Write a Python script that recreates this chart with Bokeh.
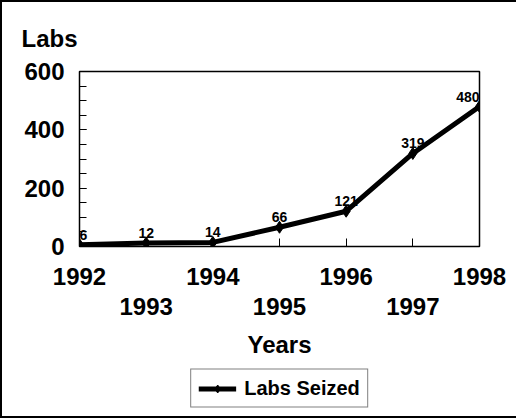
from bokeh.plotting import figure
from bokeh.layouts import column
from bokeh.models import (Range1d, LinearAxis, FixedTicker, Legend, LegendItem,
                          ColumnDataSource)
from bokeh.embed import file_html
from bokeh.resources import INLINE
from bokeh.core.properties import value

# ---- data ----
years = ["1992", "1993", "1994", "1995", "1996", "1997", "1998"]
labs_seized = [6, 12, 14, 66, 121, 319, 480]
y_ticks = [0, 200, 400, 600]
title_text = "Labs"
x_title = "Years"
series_name = "Labs Seized"

FONT = "Liberation Sans"
xs = list(range(len(years)))

aligns = ["left"] + ["center"] * (len(years) - 2) + ["right"]
src = ColumnDataSource(dict(x=xs, y=labs_seized,
                            t=[str(v) for v in labs_seized], align=aligns))

p = figure(frame_width=400, frame_height=175,
           x_range=Range1d(0, len(years) - 1), y_range=Range1d(0, 600),
           min_border_left=77, min_border_right=37, min_border_top=69,
           min_border_bottom=113,
           output_backend="svg", toolbar_location=None)
p.background_fill_color = "white"
p.border_fill_color = "white"
p.outline_line_color = "black"
p.outline_line_width = 1.5
p.xgrid.visible = False
p.ygrid.visible = False

# title
p.title.text = title_text
p.title.align = "left"
p.title.offset = -58
p.title.text_font = FONT
p.title.text_font_size = "24px"
p.title.text_font_style = "bold"
p.title.text_color = "black"
p.title.standoff = 40

# y axis
ya = p.yaxis[0]
ya.ticker = FixedTicker(ticks=y_ticks, minor_ticks=list(range(0, 601, 50)))
ya.axis_line_color = None
ya.major_tick_in = 7
ya.major_tick_out = 0
ya.minor_tick_in = 7
ya.minor_tick_out = 0
ya.major_tick_line_color = "black"
ya.minor_tick_line_color = "black"
ya.major_label_text_font = FONT
ya.major_label_text_font_size = "24px"
ya.major_label_text_font_style = "bold"
ya.major_label_text_color = "black"
ya.major_label_standoff = 15

# x axis: even years (ticks on all years)
xa = p.xaxis[0]
xa.ticker = FixedTicker(ticks=xs, minor_ticks=[])
xa.major_label_overrides = {i: (years[i] if i % 2 == 0 else "") for i in xs}
xa.axis_line_color = None
xa.major_tick_in = 8
xa.major_tick_out = 0
xa.major_tick_line_color = "black"
xa.major_label_text_font = FONT
xa.major_label_text_font_size = "24px"
xa.major_label_text_font_style = "bold"
xa.major_label_text_color = "black"
xa.major_label_standoff = 21

# x axis: odd years on second row
xa2 = LinearAxis(ticker=FixedTicker(ticks=[i for i in xs if i % 2 == 1], minor_ticks=[]))
xa2.major_label_overrides = {i: years[i] for i in xs if i % 2 == 1}
xa2.axis_line_color = None
xa2.major_tick_line_color = None
xa2.major_tick_in = 0
xa2.major_tick_out = 0
xa2.minor_tick_line_color = None
xa2.major_label_text_font = FONT
xa2.major_label_text_font_size = "24px"
xa2.major_label_text_font_style = "bold"
xa2.major_label_text_color = "black"
xa2.major_label_standoff = 10
xa2.axis_label = x_title
xa2.axis_label_text_font = FONT
xa2.axis_label_text_font_size = "24px"
xa2.axis_label_text_font_style = "bold"
xa2.axis_label_text_color = "black"
xa2.axis_label_standoff = 13
p.add_layout(xa2, "below")

# series
ln = p.line("x", "y", source=src, line_color="black", line_width=5)
mk = p.scatter("x", "y", source=src, marker="diamond", size=12,
               fill_color="black", line_color="black")
p.text("x", "y", text="t", source=src, text_align="align",
       text_baseline="bottom", y_offset=-5,
       text_font=value(FONT), text_font_size="14px", text_font_style="bold",
       text_color="black")

# legend strip (separate small figure below the chart; its renderers lie outside its view)
p2 = figure(width=514, height=56, x_range=Range1d(0, 1), y_range=Range1d(-2, -1),
            min_border=0, output_backend="svg", toolbar_location=None)
p2.axis.visible = False
p2.grid.visible = False
p2.outline_line_color = None
p2.background_fill_color = "white"
p2.border_fill_color = "white"
ln2 = p2.line("x", "y", source=src, line_color="black", line_width=5)
mk2 = p2.scatter("x", "y", source=src, marker="diamond", size=12,
                 fill_color="black", line_color="black")
legend = Legend(items=[LegendItem(label=series_name, renderers=[ln2, mk2])],
                location="center", orientation="horizontal")
legend.label_text_font = FONT
legend.label_text_font_size = "20px"
legend.label_text_font_style = "bold"
legend.label_text_color = "black"
legend.border_line_color = "black"
legend.border_line_width = 1
legend.padding = 7
legend.margin = 0
legend.glyph_width = 38
legend.label_standoff = 8
legend.background_fill_alpha = 1
p2.add_layout(legend, "center")

lay = column(p, p2, spacing=0,
             styles={"border-left": "2px solid black", "border-top": "2px solid black",
                     "border-bottom": "2px solid black"})

open("out.html", "w").write(file_html(lay, INLINE))
